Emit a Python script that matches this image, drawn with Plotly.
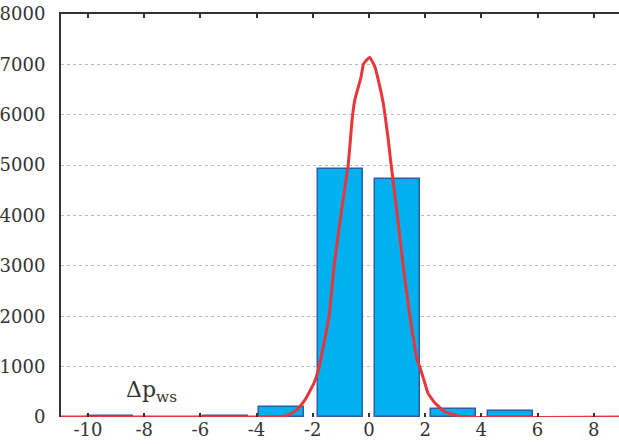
import plotly.graph_objects as go

# Histogram bars
bar_x = [-9.2, -5.1, -3.1, -1.0, 1.0, 3.0, 5.05]
bar_y = [25, 25, 205, 4920, 4730, 150, 120]

# Fitted curve
curve_x = [-10.96, -3.3, -3.0, -2.8, -2.6, -2.4, -2.28, -1.95, -1.77, -1.42, -1.24, -1.0,
           -0.74, -0.59, -0.5, -0.28, -0.2, -0.14, 0.03, 0.21, 0.39, 0.51, 0.57, 0.69,
           0.77, 1.01, 1.22, 1.46, 1.72, 1.81, 1.99, 2.10, 2.35, 2.70, 3.06, 3.31, 8.9]
curve_y = [0, 0, 15, 60, 130, 250, 337, 680, 1000, 2000, 3000, 4000,
           5000, 5950, 6300, 6750, 7000, 7050, 7137, 6950, 6554, 6224, 6000, 5496,
           5100, 4000, 3000, 2000, 1131, 998, 674, 475, 278, 105, 40, 0, 0]

x_ticks = [-10, -8, -6, -4, -2, 0, 2, 4, 6, 8]
y_ticks = [0, 1000, 2000, 3000, 4000, 5000, 6000, 7000, 8000]

serif = "DejaVu Serif"
font = dict(family=serif, size=18, color="#333333")

fig = go.Figure()
fig.add_trace(go.Bar(x=bar_x, y=bar_y, width=1.6,
                     marker=dict(color="#00B0F0", line=dict(color="#2F5DA8", width=1.5)),
                     showlegend=False))
fig.add_trace(go.Scatter(x=curve_x, y=curve_y, mode="lines",
                         line=dict(color="#E8363A", width=3, shape="spline", smoothing=0.4),
                         showlegend=False, cliponaxis=False))

fig.add_annotation(x=-7.75, y=500, text="Δp<sub>ws</sub>", showarrow=False,
                   font=dict(family=serif, size=22, color="#333333"))

fig.update_layout(
    width=619, height=444,
    margin=dict(l=61, r=0, t=14, b=27),
    paper_bgcolor="white", plot_bgcolor="white",
    font=font,
    bargap=0,
    xaxis=dict(range=[-10.96, 8.9], tickvals=x_ticks, ticktext=[str(v) for v in x_ticks],
               ticks="inside", ticklen=4, tickwidth=2, tickcolor="#333333",
               showline=False, showgrid=False, zeroline=False, tickfont=font),
    xaxis2=dict(range=[-10.96, 8.9], overlaying="x", side="top", tickvals=x_ticks,
                showticklabels=False, ticks="inside", ticklen=4, tickwidth=2,
                tickcolor="#333333", showline=True, linecolor="#333333", linewidth=2,
                showgrid=False, zeroline=False),
    yaxis=dict(range=[0, 8000], tickvals=y_ticks, ticks="", showline=True,
               linecolor="#333333", linewidth=2, showgrid=True, gridcolor="#BBBBBB",
               griddash="dot", gridwidth=1, zeroline=False, tickfont=font, ticklabelstandoff=10),
)
fig.add_trace(go.Scatter(x=[-10], y=[0], xaxis="x2", mode="markers",
                         marker=dict(opacity=0), showlegend=False, hoverinfo="skip"))

fig.write_html("out.html")
